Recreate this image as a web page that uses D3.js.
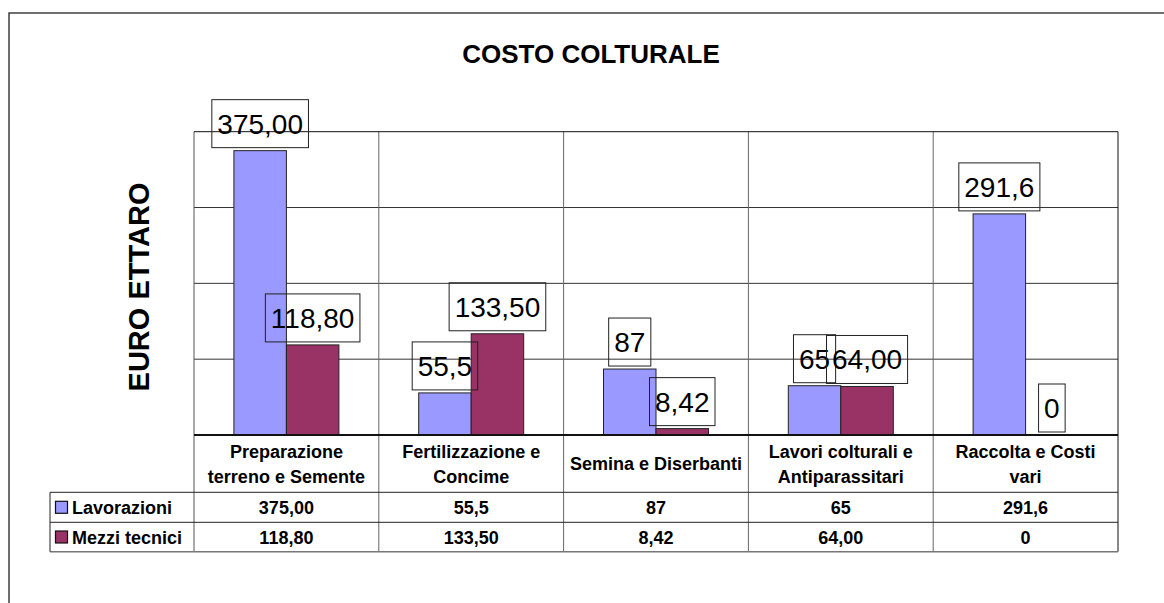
<!DOCTYPE html>
<html>
<head>
<meta charset="utf-8">
<script src="https://cdn.jsdelivr.net/npm/d3@7"></script>
<style>
  body { margin: 0; background: #fff; }
  text { font-family: "Liberation Sans", Arial, sans-serif; }
</style>
</head>
<body>
<svg id="chart" width="1164" height="603"></svg>
<script>

  var categories = [
    ["Preparazione", "terreno e Semente"],
    ["Fertilizzazione e", "Concime"],
    ["Semina e Diserbanti"],
    ["Lavori colturali e", "Antiparassitari"],
    ["Raccolta e Costi", "vari"]
  ];
  var seriesNames = ["Lavorazioni", "Mezzi tecnici"];
  var lavorazioni = [375, 55.5, 87, 65, 291.6];
  var lavorazioniLabels = ["375,00", "55,5", "87", "65", "291,6"];
  var mezzi = [118.8, 133.5, 8.42, 64, 0];
  var mezziLabels = ["118,80", "133,50", "8,42", "64,00", "0"];
  var colors = ["#9999FF", "#993366"];
  var yTicks = [100, 200, 300];

  var svg = d3.select('#chart');

  var plotLeft = 194, plotRight = 1118, plotTop = 131.7, plotBottom = 435;

  var x = d3.scaleBand()
    .domain(d3.range(categories.length))
    .range([plotLeft, plotRight]);

  var x1 = d3.scaleBand()
    .domain(d3.range(seriesNames.length))
    .range([0, x.bandwidth()])
    .paddingOuter(0.76);

  var y = d3.scaleLinear().domain([0, 400]).range([plotBottom, plotTop]);

  // outer frame
  svg.append('rect')
    .attr('x', 9).attr('y', 13)
    .attr('width', 1164).attr('height', 620)
    .attr('fill', 'none').attr('stroke', '#222').attr('stroke-width', 1.3);

  svg.append('text')
    .attr('x', 591).attr('y', 62.7)
    .attr('text-anchor', 'middle')
    .style('font-size', '26px').style('font-weight', 'bold')
    .text('COSTO COLTURALE');

  svg.append('text')
    .attr('transform', 'translate(149,287) rotate(-90)')
    .attr('text-anchor', 'middle')
    .style('font-size', '29px').style('font-weight', 'bold')
    .text('EURO ETTARO');

  // grid
  svg.selectAll('line.grid').data(yTicks).enter().append('line')
    .attr('x1', plotLeft).attr('x2', plotRight)
    .attr('y1', function (d) { return y(d); })
    .attr('y2', function (d) { return y(d); })
    .attr('stroke', '#333').attr('stroke-width', 1);

  // table geometry
  var rowTop = 492.3, rowMid = 522.3, rowBot = 551.7, legendLeft = 50;

  // vertical category lines (through plot and table)
  svg.selectAll('line.vcat').data(d3.range(1, categories.length)).enter().append('line')
    .attr('x1', function (d) { return x(d); })
    .attr('x2', function (d) { return x(d); })
    .attr('y1', plotTop).attr('y2', rowBot)
    .attr('stroke', '#666').attr('stroke-width', 1);

  svg.append('line')
    .attr('x1', plotLeft).attr('x2', plotLeft).attr('y1', plotTop).attr('y2', rowBot)
    .attr('stroke', '#555');
  svg.append('line')
    .attr('x1', plotRight).attr('x2', plotRight).attr('y1', plotTop).attr('y2', rowBot)
    .attr('stroke', '#111');
  svg.append('line')
    .attr('x1', plotLeft).attr('x2', plotRight).attr('y1', plotTop).attr('y2', plotTop)
    .attr('stroke', '#111');

  // bars
  var seriesData = [lavorazioni, mezzi];
  var seriesLabels = [lavorazioniLabels, mezziLabels];

  seriesData.forEach(function (vals, s) {
    svg.selectAll('rect.bar' + s).data(vals).enter().append('rect')
      .attr('x', function (d, i) { return x(i) + x1(s); })
      .attr('y', function (d) { return y(d); })
      .attr('width', x1.bandwidth())
      .attr('height', function (d) { return plotBottom - y(d); })
      .attr('fill', colors[s])
      .attr('stroke', '#222').attr('stroke-width', 1);
  });

  // axis line
  svg.append('line')
    .attr('x1', plotLeft).attr('x2', plotRight).attr('y1', plotBottom).attr('y2', plotBottom)
    .attr('stroke', '#111').attr('stroke-width', 2);

  // data labels with boxes
  seriesData.forEach(function (vals, s) {
    vals.forEach(function (d, i) {
      var cx = x(i) + x1(s) + x1.bandwidth() / 2;
      var boxBottom = y(d) - 3;
      var g = svg.append('g');
      var t = g.append('text')
        .attr('x', cx).attr('y', boxBottom - 48 + 34)
        .attr('text-anchor', 'middle')
        .style('font-size', '28px')
        .text(seriesLabels[s][i]);
      var w = t.node().getComputedTextLength() + 11;
      g.insert('rect', 'text')
        .attr('x', cx - w / 2).attr('y', boxBottom - 48)
        .attr('width', w).attr('height', 48)
        .attr('fill', 'none').attr('stroke', '#222').attr('stroke-width', 1);
    });
  });

  // category labels
  categories.forEach(function (lines, i) {
    var cx = x(i) + x.bandwidth() / 2;
    var base = lines.length === 1 ? 470.2 : 457.5;
    lines.forEach(function (ln, k) {
      svg.append('text')
        .attr('x', cx).attr('y', base + k * 25.6)
        .attr('text-anchor', 'middle')
        .style('font-size', '18px').style('font-weight', 'bold')
        .text(ln);
    });
  });

  // table rows
  [rowTop, rowMid].forEach(function (yy) {
    svg.append('line')
      .attr('x1', legendLeft).attr('x2', plotRight).attr('y1', yy).attr('y2', yy)
      .attr('stroke', '#222');
  });
  svg.append('line')
    .attr('x1', legendLeft).attr('x2', plotRight).attr('y1', rowBot).attr('y2', rowBot)
    .attr('stroke', '#777').attr('stroke-width', 1.5);
  svg.append('line')
    .attr('x1', legendLeft).attr('x2', legendLeft).attr('y1', rowTop).attr('y2', rowBot)
    .attr('stroke', '#222');

  var rowCenters = [(rowTop + rowMid) / 2, (rowMid + rowBot) / 2];
  seriesNames.forEach(function (name, s) {
    var cy = rowCenters[s];
    svg.append('rect')
      .attr('x', 55.5).attr('y', cy - 6)
      .attr('width', 12).attr('height', 12)
      .attr('fill', colors[s]).attr('stroke', '#111').attr('stroke-width', 1.2);
    svg.append('text')
      .attr('x', 72).attr('y', cy + 6.5)
      .style('font-size', '18px').style('font-weight', 'bold')
      .text(name);
    seriesLabels[s].forEach(function (lbl, i) {
      svg.append('text')
        .attr('x', x(i) + x.bandwidth() / 2).attr('y', cy + 6.5)
        .attr('text-anchor', 'middle')
        .style('font-size', '18px').style('font-weight', 'bold')
        .text(lbl);
    });
  });

</script>
</body>
</html>
